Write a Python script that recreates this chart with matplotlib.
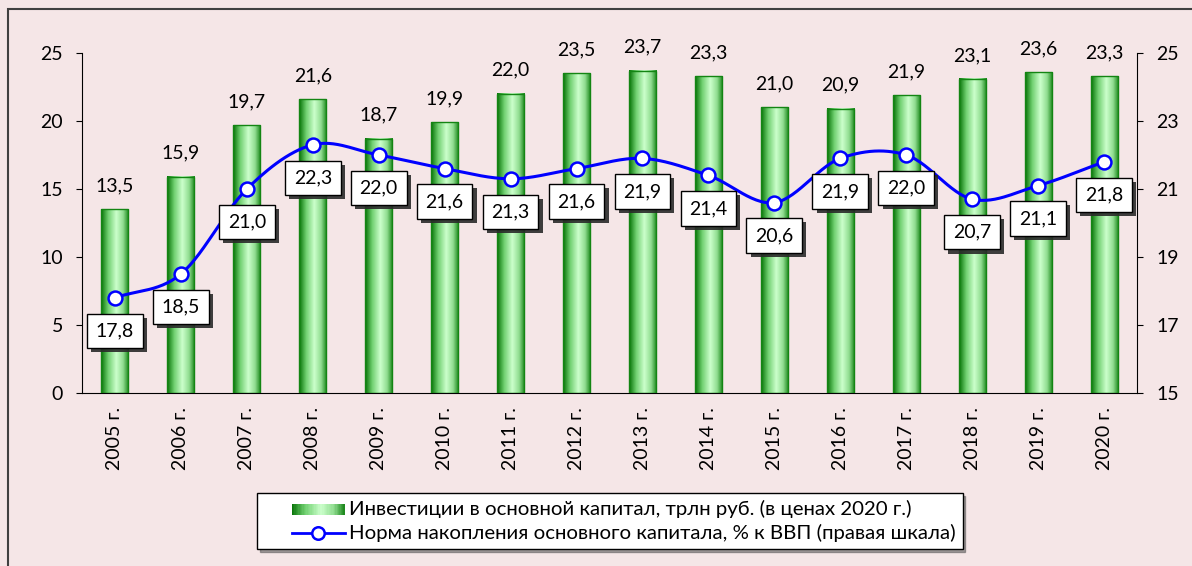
import matplotlib
matplotlib.use("Agg")
import matplotlib.pyplot as plt
import matplotlib.patheffects as pe
import numpy as np
from matplotlib.colors import LinearSegmentedColormap
from matplotlib.legend_handler import HandlerBase
from matplotlib.lines import Line2D
from matplotlib.patches import Rectangle

plt.rcParams["font.family"] = ["Lato", "DejaVu Sans"]

years = [f"{y} г." for y in range(2005, 2021)]
investment = [13.5, 15.9, 19.7, 21.6, 18.7, 19.9, 22.0, 23.5, 23.7, 23.3,
              21.0, 20.9, 21.9, 23.1, 23.6, 23.3]
accumulation = [17.8, 18.5, 21.0, 22.3, 22.0, 21.6, 21.3, 21.6, 21.9, 21.4,
                20.6, 21.9, 22.0, 20.7, 21.1, 21.8]

BG = "#f5e6e7"
BLUE = "#0000ff"
FS = 14
green_cmap = LinearSegmentedColormap.from_list(
    "bar", [(0.0, "#067206"), (0.25, "#6fcf6f"), (0.55, "#ccffcc"),
            (0.8, "#8fdc8f"), (1.0, "#1a861a")])


def fmt(v):
    return f"{v:.1f}".replace(".", ",")


def catmull_rom(x, y, n=30):
    x = np.asarray(x, float)
    y = np.asarray(y, float)
    px = np.concatenate([[2 * x[0] - x[1]], x, [2 * x[-1] - x[-2]]])
    py = np.concatenate([[2 * y[0] - y[1]], y, [2 * y[-1] - y[-2]]])
    t = np.linspace(0, 1, n)
    xs, ys = [], []
    for i in range(1, len(px) - 2):
        for p, out in ((px, xs), (py, ys)):
            p0, p1, p2, p3 = p[i - 1], p[i], p[i + 1], p[i + 2]
            out.append(0.5 * (2 * p1 + (-p0 + p2) * t
                              + (2 * p0 - 5 * p1 + 4 * p2 - p3) * t ** 2
                              + (-p0 + 3 * p1 - 3 * p2 + p3) * t ** 3))
    return np.concatenate(xs), np.concatenate(ys)


# legend handles drawn only in the right part of the handle slot
HSTART = 0.34


class GradientHandler(HandlerBase):
    def create_artists(self, legend, orig_handle, xdescent, ydescent,
                       width, height, fontsize, trans):
        arts = []
        n = 40
        x0 = -xdescent + width * HSTART
        ww = width * (1 - HSTART)
        for i in range(n):
            arts.append(Rectangle((x0 + ww * i / n, -ydescent + height * 0.0),
                                  ww / n, height * 0.8,
                                  facecolor=green_cmap((i + 0.5) / n),
                                  edgecolor="none", transform=trans))
        return arts


class LineHandler(HandlerBase):
    def create_artists(self, legend, orig_handle, xdescent, ydescent,
                       width, height, fontsize, trans):
        x0 = -xdescent + width * HSTART
        x1 = -xdescent + width
        yc = -ydescent + height * 0.4
        ln = Line2D([x0, x1], [yc, yc], color=BLUE, linewidth=2, transform=trans)
        mk = Line2D([(x0 + x1) / 2], [yc], linestyle="none", marker="o",
                    markersize=9, markerfacecolor="white", markeredgecolor=BLUE,
                    markeredgewidth=1.8, transform=trans)
        return [ln, mk]


fig = plt.figure(figsize=(11.92, 5.66), dpi=100)
fig.patch.set_facecolor(BG)
fig.patches.append(Rectangle((8 / 1192, -0.1), 1.2, 1 - 8.5 / 566 + 0.1,
                             transform=fig.transFigure, fill=False,
                             edgecolor="#404040", linewidth=1.5))

ax = fig.add_axes([82 / 1192, 1 - 393 / 566, (1137 - 82) / 1192, 340 / 566])
ax.set_facecolor(BG)
ax2 = ax.twinx()

x = np.arange(len(years))
w = 0.41
grad = np.linspace(0, 1, 64).reshape(1, -1)
for xi, h in zip(x, investment):
    ax.imshow(grad, cmap=green_cmap, aspect="auto",
              extent=[xi - w / 2, xi + w / 2, 0, h], zorder=2)
    ax.add_patch(Rectangle((xi - w / 2, 0), w, h, fill=False,
                           edgecolor="#138513", linewidth=1.0, zorder=3))
    ax.text(xi, h + 1.1, fmt(h), ha="center", va="bottom", fontsize=FS)

ax.set_xlim(-0.5, 15.5)
ax.set_ylim(0, 25)
ax.set_yticks(range(0, 26, 5))
ax.set_xticks(x)
ax.set_xticklabels(years, rotation=90, fontsize=FS)
ax.tick_params(axis="y", labelsize=FS, length=4.5, direction="out", pad=9)
ax.tick_params(axis="x", length=0, pad=10)
for s in ("top", "right"):
    ax.spines[s].set_visible(False)

ax2.set_ylim(15, 25)
ax2.set_yticks(range(15, 26, 2))
ax2.tick_params(axis="y", labelsize=FS, length=4.5, direction="out", pad=9.5)
for s in ("top", "left", "bottom"):
    ax2.spines[s].set_visible(False)

sx, sy = catmull_rom(x, accumulation)
ax2.plot(sx, sy, color=BLUE, linewidth=2.2, zorder=4)
ax2.plot(x, accumulation, linestyle="none", marker="o", markersize=10,
         markerfacecolor="white", markeredgecolor=BLUE, markeredgewidth=1.8,
         zorder=5)
for xi, v in zip(x, accumulation):
    t = ax2.text(xi, v - 0.97, fmt(v), ha="center", va="center", fontsize=FS,
                 zorder=6,
                 bbox=dict(boxstyle="square,pad=0.45", facecolor="white",
                           edgecolor="black", linewidth=1.0))
    t.get_bbox_patch().set_path_effects(
        [pe.SimplePatchShadow(offset=(3, -3), shadow_rgbFace="#2a2a2a", alpha=0.9),
         pe.Normal()])

h_bar = Rectangle((0, 0), 1, 1)
h_line = Line2D([], [])
leg = fig.legend([h_bar, h_line],
                 ["Инвестиции в основной капитал, трлн руб. (в ценах 2020 г.)",
                  "Норма накопления основного капитала, % к ВВП (правая шкала)"],
                 handler_map={h_bar: GradientHandler(), h_line: LineHandler()},
                 loc="center", bbox_to_anchor=(610 / 1192, 1 - 521 / 566),
                 fontsize=14.7, frameon=True, fancybox=False, shadow=True,
                 handlelength=3.92, handletextpad=0.2, labelspacing=0.25,
                 borderpad=0.35, borderaxespad=0)
leg.get_frame().set_edgecolor("black")
leg.get_frame().set_linewidth(1.0)

fig.savefig("out.png", dpi=100, facecolor=BG)
